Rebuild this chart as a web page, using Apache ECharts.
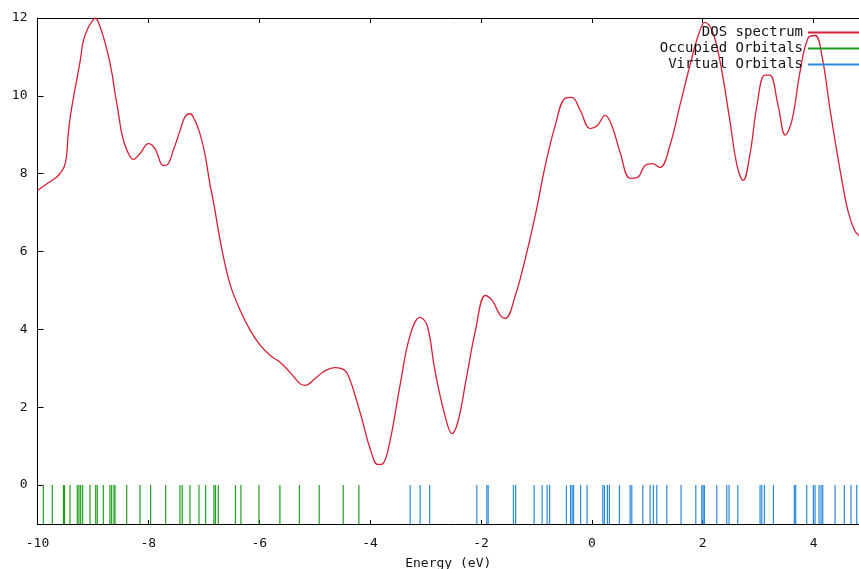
<!DOCTYPE html>
<html>
<head>
<meta charset="utf-8">
<script src="https://cdn.jsdelivr.net/npm/echarts@6/dist/echarts.min.js"></script>
<style>html,body{margin:0;padding:0;background:#fff;}#c{width:859px;height:569px;}</style>
</head>
<body>
<div id="c"></div>
<script>
const xTicks = [-10, -8, -6, -4, -2, 0, 2, 4];
const yTicks = [0, 2, 4, 6, 8, 10, 12];

const dosE = [-10.00,-9.81,-9.62,-9.50,-9.445,-9.40,-9.32,-9.23,-9.17,-9.08,-8.99,-8.96,-8.87,-8.75,-8.66,-8.60,-8.54,-8.48,-8.40,-8.27,-8.15,-8.00,-7.88,-7.73,-7.65,-7.55,-7.43,-7.34,-7.25,-7.16,-7.07,-6.98,-6.89,-6.83,-6.67,-6.52,-6.34,-6.16,-5.98,-5.80,-5.62,-5.44,-5.26,-5.17,-4.99,-4.81,-4.63,-4.45,-4.36,-4.27,-4.14,-4.00,-3.86,-3.77,-3.64,-3.46,-3.28,-3.10,-2.97,-2.83,-2.65,-2.52,-2.41,-2.27,-2.10,-1.92,-1.80,-1.65,-1.56,-1.38,-1.20,-1.02,-0.84,-0.66,-0.48,-0.36,-0.21,-0.03,0.10,0.24,0.36,0.51,0.69,0.82,0.96,1.09,1.23,1.41,1.59,1.77,1.92,2.04,2.17,2.31,2.49,2.62,2.73,2.85,2.98,3.12,3.21,3.36,3.49,3.61,3.76,3.90,4.03,4.15,4.30,4.48,4.62,4.74,4.82];
const dosV = [7.57,7.76,7.96,8.26,9.03,9.55,10.2,10.9,11.43,11.77,11.96,12.0,11.77,11.2,10.6,10.06,9.55,9.03,8.65,8.37,8.52,8.77,8.64,8.21,8.24,8.6,9.1,9.46,9.54,9.37,9.03,8.51,7.74,7.31,6.03,5.13,4.48,3.97,3.59,3.33,3.15,2.89,2.6,2.56,2.74,2.94,3.02,2.94,2.69,2.3,1.66,0.94,0.53,0.55,1.14,2.56,3.84,4.31,4.1,2.94,1.79,1.32,1.66,2.69,3.97,4.87,4.75,4.36,4.28,4.87,5.82,6.93,8.21,9.24,9.94,9.96,9.63,9.16,9.24,9.5,9.24,8.55,7.88,7.9,8.21,8.26,8.16,8.73,9.76,10.78,11.55,11.89,11.68,10.91,9.37,8.21,7.83,8.47,9.76,10.53,10.53,9.76,8.99,9.37,10.65,11.48,11.55,11.04,9.63,8.08,7.05,6.54,6.41];

const occupied = [-9.895,-9.733,-9.531,-9.513,-9.414,-9.282,-9.252,-9.221,-9.185,-9.053,-8.950,-8.922,-8.813,-8.693,-8.662,-8.620,-8.602,-8.391,-8.151,-7.959,-7.688,-7.430,-7.389,-7.250,-7.087,-6.967,-6.817,-6.790,-6.739,-6.429,-6.330,-6.005,-5.627,-5.275,-4.918,-4.485,-4.202];
const virtual = [-3.277,-3.097,-2.925,-2.074,-1.894,-1.870,-1.414,-1.374,-1.041,-0.896,-0.806,-0.761,-0.458,-0.382,-0.355,-0.328,-0.202,-0.085,0.198,0.227,0.281,0.317,0.498,0.691,0.721,0.920,1.051,1.111,1.172,1.353,1.610,1.876,1.984,2.007,2.031,2.254,2.435,2.476,2.633,3.035,3.066,3.113,3.275,3.654,3.679,3.877,3.996,4.027,4.099,4.135,4.166,4.388,4.555,4.676,4.779];

const RED = '#d81f35', GREEN = '#1fa01f', BLUE = '#2a88dd';
const FONT = 'DejaVu Sans Mono';

function stickRender(color) {
  return function (params, api) {
    const x = api.value(0);
    const p0 = api.coord([x, 0]);
    const p1 = api.coord([x, -1]);
    return { type: 'line', shape: { x1: p0[0], y1: p0[1], x2: p1[0], y2: p1[1] },
             style: { stroke: color, lineWidth: 1.2 } };
  };
}

const chart = echarts.init(document.getElementById('c'), null, { renderer: 'canvas' });
chart.setOption({
  animation: false,
  backgroundColor: '#fff',
  grid: { left: 37.5, right: 0, top: 18, bottom: 45, containLabel: false, outerBoundsMode: 'none' },
  legend: {
    orient: 'vertical', right: -1, top: 25, align: 'right',
    itemWidth: 52, itemHeight: 2, itemGap: 1, padding: 0,
    textStyle: { fontFamily: FONT, fontSize: 14, color: '#111', lineHeight: 15, padding: [0, 0, 0, 0] },
    data: [
      { name: 'DOS spectrum', icon: 'rect', itemStyle: { color: RED } },
      { name: 'Occupied Orbitals', icon: 'rect', itemStyle: { color: GREEN } },
      { name: 'Virtual Orbitals', icon: 'rect', itemStyle: { color: BLUE } }
    ]
  },
  xAxis: [{
    type: 'value', min: -10, max: 4.82, position: 'bottom',
    name: 'Energy (eV)', nameLocation: 'middle', nameGap: 33,
    nameTextStyle: { fontFamily: FONT, fontSize: 13, color: '#111' },
    axisLine: { show: true, onZero: false, lineStyle: { color: '#000', width: 1 } },
    axisTick: { show: true, inside: true, length: 4, customValues: xTicks, lineStyle: { color: '#000' } },
    axisLabel: { customValues: xTicks, fontFamily: FONT, fontSize: 13, color: '#111', margin: 13,
                 formatter: v => String(v) },
    splitLine: { show: false }
  }, {
    type: 'value', min: -10, max: 4.82, position: 'top',
    axisLine: { show: true, onZero: false, lineStyle: { color: '#000', width: 1 } },
    axisTick: { show: true, inside: true, length: 5, customValues: xTicks, lineStyle: { color: '#000' } },
    axisLabel: { show: false },
    splitLine: { show: false }
  }],
  yAxis: {
    type: 'value', min: -1, max: 12, position: 'left',
    axisLine: { show: true, onZero: false, lineStyle: { color: '#000', width: 1 } },
    axisTick: { show: true, inside: true, length: 6, customValues: yTicks, lineStyle: { color: '#000' } },
    axisLabel: { customValues: yTicks, fontFamily: FONT, fontSize: 13, color: '#111', margin: 10 },
    splitLine: { show: false }
  },
  series: [{
    name: 'DOS spectrum', type: 'line', xAxisIndex: 0,
    data: dosE.map((e, i) => [e, dosV[i]]),
    smooth: 0.4, showSymbol: false, symbol: 'none',
    lineStyle: { color: RED, width: 1.3 }, itemStyle: { color: RED }
  }, {
    name: 'Occupied Orbitals', type: 'custom', xAxisIndex: 0,
    renderItem: stickRender(GREEN), itemStyle: { color: GREEN },
    data: occupied.map(e => [e, 0]), encode: { x: 0, y: 1 }
  }, {
    name: 'Virtual Orbitals', type: 'custom', xAxisIndex: 0,
    renderItem: stickRender(BLUE), itemStyle: { color: BLUE },
    data: virtual.map(e => [e, 0]), encode: { x: 0, y: 1 }
  }]
});
</script>
</body>
</html>
